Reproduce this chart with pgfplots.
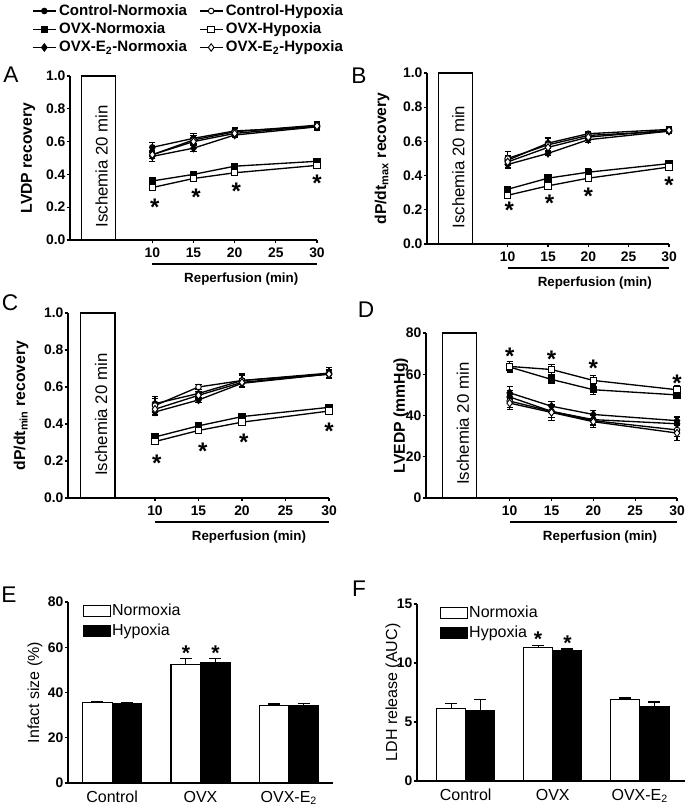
\documentclass[border=0pt]{standalone}
\usepackage{fontspec}
\setmainfont{Liberation Sans}
\usepackage{pgfplots}
\pgfplotsset{compat=1.18}

\pgfplotsset{
  panel/.style={
    scale only axis, axis lines=left, axis line style={-, line width=0.9pt},
    tick align=outside, major tick length=2.5pt, tick style={line width=0.9pt, black},
    clip=false, anchor=south west,
    /pgf/number format/assume math mode=true,
    tick label style={font=\fontsize{10.4}{12}\selectfont\bfseries},
    yticklabel style={inner xsep=0.8pt},
    label style={font=\fontsize{11.8}{13}\selectfont\bfseries},
  },
  linepanel/.style={panel, xmin=0, xmax=30, xtick={10,15,20,25,30}, ymin=0},
  fracpanel/.style={linepanel, ymax=1, ytick={0,0.2,...,1.0},
    yticklabel style={/pgf/number format/fixed, /pgf/number format/fixed zerofill, /pgf/number format/precision=1}},
  ser/.style={black, line width=1pt,
    error bars/y dir=both, error bars/y explicit,
    error bars/error bar style={line width=0.8pt},
    error bars/error mark options={rotate=90, line width=0.8pt, mark size=2.3pt}},
  cn/.style={ser, mark=*, mark size=2.1pt, mark options={solid, fill=black, line width=0.7pt}},
  ch/.style={ser, mark=*, mark size=2.1pt, mark options={solid, fill=white, line width=0.7pt}},
  on/.style={ser, mark=square*, mark size=2.4pt, mark options={solid, fill=black, line width=0.7pt}},
  oh/.style={ser, mark=square*, mark size=2.4pt, mark options={solid, fill=white, line width=0.7pt}},
  en/.style={ser, mark=diamond*, mark size=2.8pt, mark options={solid, fill=black, line width=0.7pt}},
  eh/.style={ser, mark=diamond*, mark size=2.8pt, mark options={solid, fill=white, line width=0.7pt}},
  barpanel/.style={panel, ybar=0pt, bar width=0.335, xtick={0,1,2},
    xticklabels={Control, OVX, OVX-E\textsubscript{2}}, x tick style={draw=none},
    xticklabel style={font=\fontsize{12}{13}\selectfont},
    label style={font=\fontsize{12}{13}\selectfont},
    legend image code/.code={\draw[#1] (0pt,-4pt) rectangle (20pt,4pt);},
    legend style={draw=none, fill=none, anchor=north west, font=\fontsize{12}{13}\selectfont, row sep=1pt,
      nodes={inner xsep=1pt}},
    legend cell align=left},
  nbar/.style={fill=white, draw=black, line width=0.9pt,
    error bars/y dir=plus, error bars/y explicit,
    error bars/error bar style={line width=0.9pt, black},
    error bars/error mark options={rotate=90, line width=0.9pt, mark size=4.5pt, black}},
  hbar/.style={nbar, fill=black},
}
\newcommand{\isch}[2]{%
  \draw[line width=0.9pt, fill=white] (axis cs:#1,0) rectangle (axis cs:#2,\pgfkeysvalueof{/pgfplots/ymax});
  \node[rotate=90, font=\fontsize{12.6}{13}\selectfont] at (axis cs:{(#1+#2)/2+0.4},{0.45*\pgfkeysvalueof{/pgfplots/ymax}}) {Ischemia 20 min};
}
\newcommand{\reperf}{%
  \draw[line width=0.9pt] ([yshift=-18pt]axis cs:10,0) -- ([yshift=-18pt]axis cs:30,0);
  \node[font=\fontsize{10}{11}\selectfont\bfseries] at ([yshift=-29.5pt]axis cs:20.8,0) {Reperfusion (min)};
}
\newcommand{\sig}[2]{\node[anchor=north, inner sep=0pt, font=\fontsize{18}{18}\selectfont\bfseries] at (axis cs:#1,#2) {*};}

\begin{document}
\begin{tikzpicture}
\useasboundingbox (0,0) rectangle (513.75pt,-604.5pt);

% ---------- A ----------
\begin{axis}[fracpanel, at={(52.5pt,-180pt)}, width=185.25pt, height=123pt,
  ylabel={LVDP recovery}, ylabel style={at={(axis description cs:-0.17,0.5)}, anchor=center},
  legend columns=2, legend cell align=left,
  legend style={at={(axis description cs:-0.17,1.47)}, anchor=north west, draw=none, fill=none,
    font=\fontsize{11.3}{12}\selectfont\bfseries, row sep=0pt,
    /tikz/every even column/.append style={column sep=7pt}}]
\isch{1.4}{5.5}
\addplot[cn] table[y error=e] {
x y e
10 0.565 0.03
15 0.62 0.03
20 0.665 0.02
30 0.69 0.02
};
\addlegendentry{Control-Normoxia}
\addplot[ch] table[y error=e] {
x y e
10 0.52 0.025
15 0.61 0.03
20 0.66 0.02
30 0.70 0.02
};
\addlegendentry{Control-Hypoxia}
\addplot[on] table[y error=e] {
x y e
10 0.36 0.015
15 0.40 0.01
20 0.45 0.012
30 0.48 0.01
};
\addlegendentry{OVX-Normoxia}
\addplot[oh] table[y error=e] {
x y e
10 0.32 0.01
15 0.375 0.01
20 0.41 0.015
30 0.455 0.01
};
\addlegendentry{OVX-Hypoxia}
\addplot[en] table[y error=e] {
x y e
10 0.51 0.03
15 0.56 0.02
20 0.64 0.015
30 0.69 0.025
};
\addlegendentry{OVX-E\textsubscript{2}-Normoxia}
\addplot[eh] table[y error=e] {
x y e
10 0.52 0.025
15 0.60 0.025
20 0.65 0.02
30 0.695 0.02
};
\addlegendentry{OVX-E\textsubscript{2}-Hypoxia}
\sig{10.3}{0.25}\sig{15.3}{0.31}\sig{20.2}{0.35}\sig{30}{0.40}
\reperf
\end{axis}

% ---------- B ----------
\begin{axis}[fracpanel, at={(320.25pt,-183pt)}, width=181.5pt, height=128.25pt,
  ylabel={dP/dt\textsubscript{max} recovery}, ylabel style={at={(axis description cs:-0.186,0.5)}, anchor=center}]
\isch{1.4}{5.6}
\addplot[cn] table[y error=e] {
x y e
10 0.49 0.03
15 0.59 0.03
20 0.645 0.015
30 0.67 0.015
};
\addplot[ch] table[y error=e] {
x y e
10 0.50 0.04
15 0.58 0.04
20 0.635 0.015
30 0.66 0.015
};
\addplot[on] table[y error=e] {
x y e
10 0.32 0.015
15 0.385 0.02
20 0.42 0.02
30 0.47 0.015
};
\addplot[oh] table[y error=e] {
x y e
10 0.285 0.015
15 0.34 0.015
20 0.385 0.015
30 0.45 0.01
};
\addplot[en] table[y error=e] {
x y e
10 0.465 0.025
15 0.53 0.015
20 0.61 0.015
30 0.66 0.015
};
\addplot[eh] table[y error=e] {
x y e
10 0.48 0.03
15 0.565 0.02
20 0.625 0.015
30 0.665 0.015
};
\sig{10.2}{0.246}\sig{15.2}{0.286}\sig{20}{0.33}\sig{30}{0.396}
\reperf
\end{axis}

% ---------- C ----------
\begin{axis}[fracpanel, at={(51pt,-373.5pt)}, width=195.75pt, height=138.75pt,
  ylabel={dP/dt\textsubscript{min} recovery}, ylabel style={at={(axis description cs:-0.18,0.5)}, anchor=center}]
\isch{1.4}{5.4}
\addplot[cn] table[y error=e] {
x y e
10 0.51 0.04
15 0.565 0.02
20 0.635 0.04
30 0.675 0.03
};
\addplot[ch] table[y error=e] {
x y e
10 0.50 0.04
15 0.60 0.015
20 0.635 0.03
30 0.67 0.025
};
\addplot[on] table[y error=e] {
x y e
10 0.33 0.015
15 0.39 0.015
20 0.44 0.015
30 0.49 0.01
};
\addplot[oh] table[y error=e] {
x y e
10 0.305 0.01
15 0.365 0.01
20 0.41 0.01
30 0.47 0.01
};
\addplot[en] table[y error=e] {
x y e
10 0.465 0.02
15 0.53 0.015
20 0.62 0.02
30 0.67 0.02
};
\addplot[eh] table[y error=e] {
x y e
10 0.48 0.03
15 0.555 0.02
20 0.625 0.02
30 0.67 0.02
};
\sig{10.2}{0.234}\sig{15.5}{0.30}\sig{20.2}{0.345}\sig{30}{0.405}
\reperf
\end{axis}

% ---------- D ----------
\begin{axis}[linepanel, at={(319.5pt,-373.5pt)}, width=188.25pt, height=123.75pt,
  ymax=80, ytick={0,20,...,80},
  ylabel={LVEDP (mmHg)}, ylabel style={at={(axis description cs:-0.1,0.5)}, anchor=center}]
\isch{2}{6}
\addplot[cn] table[y error=e] {
x y e
10 49 3
15 42 3
20 38 2.5
30 36 3
};
\addplot[ch] table[y error=e] {
x y e
10 47 3
15 42 3
20 37.5 2.5
30 33 3
};
\addplot[on] table[y error=e] {
x y e
10 63.5 2.5
15 57.5 2
20 52.5 2.5
30 50 1.5
};
\addplot[oh] table[y error=e] {
x y e
10 63.8 2.5
15 62.3 2.5
20 57 2.5
30 52.5 2
};
\addplot[en] table[y error=e] {
x y e
10 51 3
15 44.5 2.5
20 40.5 2
30 37.5 2
};
\addplot[eh] table[y error=e] {
x y e
10 46 3
15 41.5 4
20 37 3
30 31.5 3.5
};
\sig{10}{73}\sig{15}{71.2}\sig{20}{67.2}\sig{30}{60}
\reperf
\end{axis}

% ---------- E ----------
\begin{axis}[barpanel, at={(51pt,-587.25pt)}, width=198.75pt, height=135.75pt,
  xmin=-0.5, xmax=2.5, ymin=0, ymax=80, ytick={0,20,...,80},
  ylabel={Infact size (\%)}, ylabel style={at={(axis description cs:-0.125,0.5)}, anchor=center},
  legend style={at={(axis description cs:0.04,1.02)}}]
\addplot[nbar] table[y error=e] {
x y e
0 35.5 0.7
1 52.5 2.7
2 34.4 0.5
};
\addlegendentry{Normoxia}
\addplot[hbar] table[y error=e] {
x y e
0 34.9 0.6
1 53.4 1.8
2 34.1 0.9
};
\addlegendentry{Hypoxia}
\node[anchor=north, inner sep=0pt, font=\fontsize{16}{16}\selectfont\bfseries] at (axis cs:0.835,60.9) {*};
\node[anchor=north, inner sep=0pt, font=\fontsize{16}{16}\selectfont\bfseries] at (axis cs:1.17,60.9) {*};
\end{axis}

% ---------- F ----------
\begin{axis}[barpanel, at={(312.75pt,-585.75pt)}, width=201pt, height=132.75pt,
  xmin=-0.56, xmax=2.52, ymin=0, ymax=15, ytick={0,5,10,15},
  ylabel={LDH release (AUC)}, ylabel style={at={(axis description cs:-0.09,0.5)}, anchor=center},
  legend style={at={(axis description cs:0.07,1.02)}}]
\addplot[nbar] table[y error=e] {
x y e
0 6.13 0.47
1 11.33 0.14
2 6.9 0.13
};
\addlegendentry{Normoxia}
\addplot[hbar] table[y error=e] {
x y e
0 5.96 0.94
1 11.05 0.14
2 6.33 0.37
};
\addlegendentry{Hypoxia}
\node[anchor=north, inner sep=0pt, font=\fontsize{16}{16}\selectfont\bfseries] at (axis cs:0.83,12.7) {*};
\node[anchor=north, inner sep=0pt, font=\fontsize{16}{16}\selectfont\bfseries] at (axis cs:1.17,12.3) {*};
\end{axis}

% panel letters
\begin{scope}[every node/.style={font=\fontsize{17}{17}\selectfont}]
\node at (8.25pt,-56.25pt) {A};
\node at (269.25pt,-57pt) {B};
\node at (7.5pt,-227.25pt) {C};
\node at (274.5pt,-232.5pt) {D};
\node at (6.75pt,-446.25pt) {E};
\node at (269.25pt,-441.75pt) {F};
\end{scope}
\end{tikzpicture}
\end{document}
